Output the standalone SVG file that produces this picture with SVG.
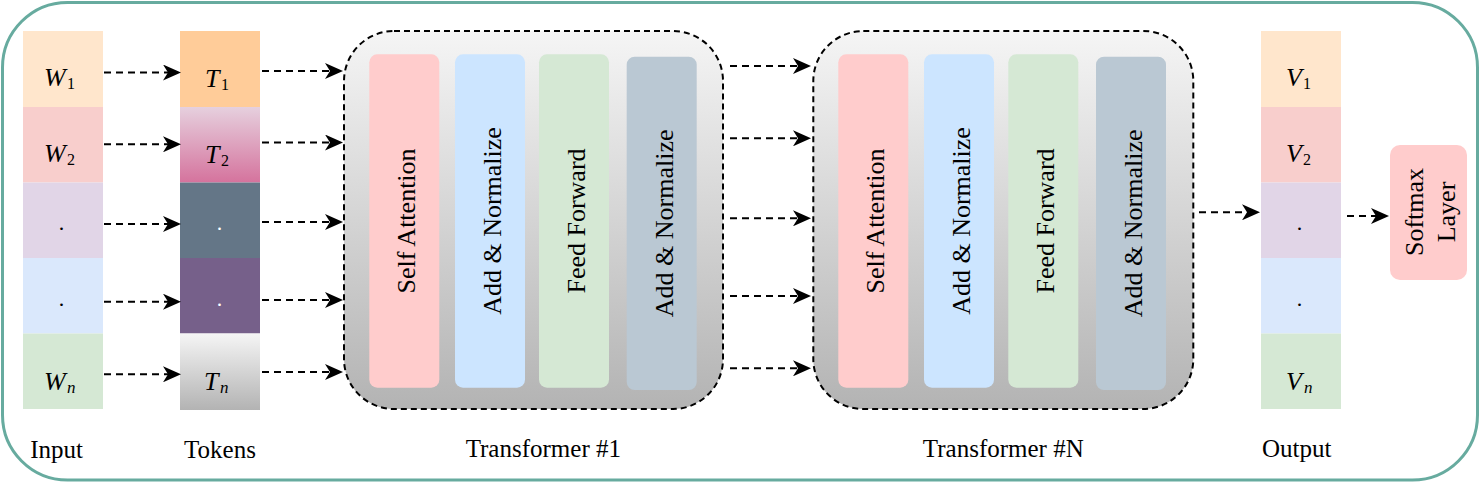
<svg xmlns="http://www.w3.org/2000/svg" width="1484" height="489" viewBox="0 0 1484 489">
<defs>
<linearGradient id="gGray" x1="0" y1="0" x2="0" y2="1"><stop offset="0" stop-color="#F5F5F5"/><stop offset="1" stop-color="#B3B3B3"/></linearGradient>
<linearGradient id="gPink" x1="0" y1="0" x2="0" y2="1"><stop offset="0" stop-color="#E6D0DE"/><stop offset="1" stop-color="#D5739D"/></linearGradient>
<marker id="arr" viewBox="0 0 18 16" refX="5" refY="8" markerWidth="18" markerHeight="16" markerUnits="userSpaceOnUse" orient="auto"><path d="M0,0 L18,8 L0,16 L5,8 Z" fill="#000"/></marker>
<style>
.lbl{font-family:"Liberation Serif","Times New Roman",serif;font-size:25px;fill:#000;text-anchor:middle}
.blk{font-family:"Liberation Serif","Times New Roman",serif;font-size:26px;fill:#000;text-anchor:middle}
.m{font-family:"Liberation Serif","Times New Roman",serif;font-size:26px;fill:#000;font-style:italic}
.s{font-size:16px;font-style:normal}
.si{font-size:17px;font-style:italic}
.dot{font-family:"Liberation Serif",serif;font-size:22px;text-anchor:middle;fill:#000}
.w{fill:#fff}
.conn{fill:none;stroke:#000;stroke-width:2;stroke-dasharray:7 5;marker-end:url(#arr)}
.tbox{stroke:#000;stroke-width:2;stroke-dasharray:6 4;fill:url(#gGray)}
</style>
</defs>
<rect x="2.5" y="2.5" width="1475" height="477.5" rx="65" ry="65" fill="#fff" stroke="#67AB9F" stroke-width="3"/>

<g id="input">
<rect x="23" y="31" width="80" height="76" fill="#FFE6CC"/>
<rect x="23" y="107" width="80" height="75.5" fill="#F8CECC"/>
<rect x="23" y="182.5" width="80" height="75.5" fill="#E1D5E7"/>
<rect x="23" y="258" width="80" height="75.5" fill="#DAE8FC"/>
<rect x="23" y="333.5" width="80" height="75.5" fill="#D5E8D4"/>
<text class="m"><tspan x="44" y="86">W</tspan><tspan class="s" x="67" y="89">1</tspan></text>
<text class="m"><tspan x="44" y="162">W</tspan><tspan class="s" x="67" y="165">2</tspan></text>
<text class="dot" x="61.5" y="229.5">.</text>
<text class="dot" x="61.5" y="305.5">.</text>
<text class="m"><tspan x="44" y="390">W</tspan><tspan class="si" x="67" y="393">n</tspan></text>
</g>

<g id="tokens">
<rect x="180" y="31" width="80" height="76" fill="#FFCC99"/>
<rect x="180" y="107" width="80" height="75.5" fill="url(#gPink)"/>
<rect x="180" y="182.5" width="80" height="75.5" fill="#647687"/>
<rect x="180" y="258" width="80" height="75.5" fill="#76608A"/>
<rect x="180" y="333.5" width="80" height="76.5" fill="url(#gGray)"/>
<text class="m"><tspan x="205" y="86.5">T</tspan><tspan class="s" x="221" y="89.5">1</tspan></text>
<text class="m"><tspan x="205" y="162.5">T</tspan><tspan class="s" x="221" y="165.5">2</tspan></text>
<text class="dot w" x="219.5" y="229.5">.</text>
<text class="dot w" x="219.5" y="305.5">.</text>
<text class="m"><tspan x="204" y="390">T</tspan><tspan class="si" x="220" y="393">n</tspan></text>
</g>

<g id="transformer1">
<rect class="tbox" x="344" y="31" width="379" height="378" rx="50" ry="50"/>
<rect x="369.3" y="54.3" width="70" height="333.4" rx="8" fill="#FFCCCC"/>
<rect x="455" y="54.3" width="70" height="333.4" rx="8" fill="#CCE5FF"/>
<rect x="539" y="54.3" width="70" height="333.4" rx="8" fill="#D5E8D4"/>
<rect x="626.7" y="56.7" width="70" height="333.3" rx="8" fill="#BAC8D3"/>
<text class="blk" transform="translate(404.3,221) rotate(-90)" y="11">Self Attention</text>
<text class="blk" transform="translate(490,221) rotate(-90)" y="11">Add &amp; Normalize</text>
<text class="blk" transform="translate(574,221) rotate(-90)" y="11">Feed Forward</text>
<text class="blk" transform="translate(661.7,223.3) rotate(-90)" y="11">Add &amp; Normalize</text>
</g>

<g id="transformerN">
<rect class="tbox" x="813.3" y="31" width="380" height="378" rx="50" ry="50"/>
<rect x="838.3" y="54.3" width="70" height="333.4" rx="8" fill="#FFCCCC"/>
<rect x="924" y="54.3" width="70" height="333.4" rx="8" fill="#CCE5FF"/>
<rect x="1008.3" y="54.3" width="70" height="333.4" rx="8" fill="#D5E8D4"/>
<rect x="1096" y="56.7" width="70" height="333.3" rx="8" fill="#BAC8D3"/>
<text class="blk" transform="translate(873.3,221) rotate(-90)" y="11">Self Attention</text>
<text class="blk" transform="translate(959,221) rotate(-90)" y="11">Add &amp; Normalize</text>
<text class="blk" transform="translate(1043.3,221) rotate(-90)" y="11">Feed Forward</text>
<text class="blk" transform="translate(1131,223.3) rotate(-90)" y="11">Add &amp; Normalize</text>
</g>

<g id="output">
<rect x="1261" y="31" width="80" height="76" fill="#FFE6CC"/>
<rect x="1261" y="107" width="80" height="75.5" fill="#F8CECC"/>
<rect x="1261" y="182.5" width="80" height="75.5" fill="#E1D5E7"/>
<rect x="1261" y="258" width="80" height="75.5" fill="#DAE8FC"/>
<rect x="1261" y="333.5" width="80" height="75.5" fill="#D5E8D4"/>
<text class="m"><tspan x="1286" y="85.5">V</tspan><tspan class="s" x="1303" y="88.5">1</tspan></text>
<text class="m"><tspan x="1286" y="161.5">V</tspan><tspan class="s" x="1303" y="164.5">2</tspan></text>
<text class="dot" x="1299.5" y="229.5">.</text>
<text class="dot" x="1299.5" y="305.5">.</text>
<text class="m"><tspan x="1286" y="390">V</tspan><tspan class="si" x="1304" y="393">n</tspan></text>
</g>

<g id="softmax">
<rect x="1390" y="145" width="77" height="135" rx="10" ry="10" fill="#FFCCCC"/>
<text class="blk" transform="translate(1428.7,212) rotate(-90)"><tspan x="0" y="-5.5">Softmax</tspan><tspan x="0" y="26">Layer</tspan></text>
</g>

<g id="labels">
<text class="lbl" x="56.7" y="457.5">Input</text>
<text class="lbl" x="220" y="457.5">Tokens</text>
<text class="lbl" x="543.3" y="457.3">Transformer #1</text>
<text class="lbl" x="1003.3" y="457.3">Transformer #N</text>
<text class="lbl" x="1296.7" y="457">Output</text>
</g>

<g id="connectors">
<line class="conn" x1="104" y1="72.5" x2="168" y2="72.5"/>
<line class="conn" x1="104" y1="144.3" x2="168" y2="144.3"/>
<line class="conn" x1="104" y1="224" x2="168" y2="224"/>
<line class="conn" x1="104" y1="301.7" x2="168" y2="301.7"/>
<line class="conn" x1="104" y1="374.3" x2="168" y2="374.3"/>
<line class="conn" x1="262" y1="71" x2="330" y2="71"/>
<line class="conn" x1="262" y1="142.5" x2="330" y2="142.5"/>
<line class="conn" x1="262" y1="222" x2="330" y2="222"/>
<line class="conn" x1="262" y1="300" x2="330" y2="300"/>
<line class="conn" x1="262" y1="372" x2="330" y2="372"/>
<line class="conn" x1="730" y1="66" x2="798" y2="66"/>
<line class="conn" x1="730" y1="138.3" x2="798" y2="138.3"/>
<line class="conn" x1="730" y1="218.3" x2="798" y2="218.3"/>
<line class="conn" x1="730" y1="296" x2="798" y2="296"/>
<line class="conn" x1="730" y1="368.3" x2="798" y2="368.3"/>
<line class="conn" x1="1199" y1="212.3" x2="1247" y2="212.3"/>
<line class="conn" x1="1347" y1="216" x2="1376" y2="216"/>
</g>
</svg>
